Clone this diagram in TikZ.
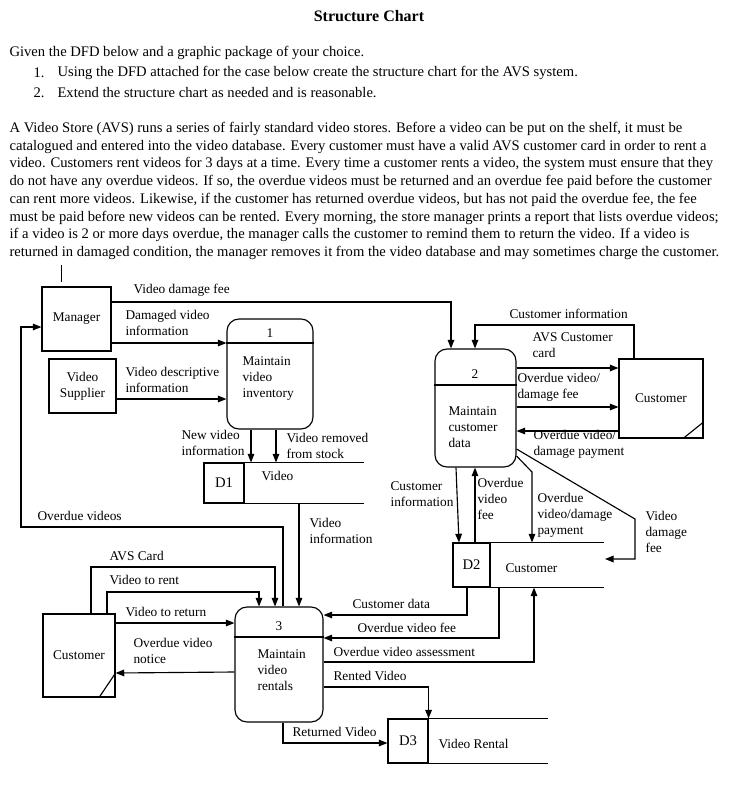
\documentclass[tikz,border=0pt]{standalone}
\usepackage{fontspec}
\setmainfont{Liberation Serif}
\usetikzlibrary{arrows.meta}

\begin{document}
\begin{tikzpicture}[x=0.75pt, y=-0.75pt, line width=0.85pt,
    every node/.style={inner sep=0pt, font=\fontsize{10}{12}\selectfont},
    body/.style={font=\fontsize{10.95}{13.3}\selectfont, align=left},
    lbl/.style={align=left, anchor=west},
    boxsize/.style 2 args={minimum width=#1*0.75pt, minimum height=#2*0.75pt},
    ent/.style={draw, rectangle, align=center},
    proc/.style={draw, rectangle, rounded corners=9pt},
    store/.style={draw, rectangle, font=\fontsize{11}{13}\selectfont},
    flow/.style={-{Triangle[length=6.5pt, width=5pt]}}]
    \useasboundingbox (0,0) rectangle (731,797);

    % heading and case text
    \node[font=\bfseries\fontsize{12}{14}\selectfont] (title) at (369,16) {Structure Chart};
    \node[body, anchor=west] (given) at (9,53) {Given the DFD below and a graphic package of your choice.};
    \node[body, anchor=west] (n1) at (33,73) {1.};
    \node[body, anchor=west] (i1) at (57,73) {Using the DFD attached for the case below create the structure chart for the AVS system.};
    \node[body, anchor=west] (n2) at (33,93) {2.};
    \node[body, anchor=west] (i2) at (57,93) {Extend the structure chart as needed and is reasonable.};
    \node[body, anchor=north west] (case) at (9,121.5) {A Video Store (AVS) runs a series of fairly standard video stores. Before a video can be put on the shelf, it must be\\
        catalogued and entered into the video database. Every customer must have a valid AVS customer card in order to rent a\\
        video. Customers rent videos for 3 days at a time. Every time a customer rents a video, the system must ensure that they\\
        do not have any overdue videos. If so, the overdue videos must be returned and an overdue fee paid before the customer\\
        can rent more videos. Likewise, if the customer has returned overdue videos, but has not paid the overdue fee, the fee\\
        must be paid before new videos can be rented. Every morning, the store manager prints a report that lists overdue videos;\\
        if a video is 2 or more days overdue, the manager calls the customer to remind them to return the video. If a video is\\
        returned in damaged condition, the manager removes it from the video database and may sometimes charge the customer.};
    \draw[line width=0.7pt] (61,265) -- (61,282);

    % external entities
    \node[ent, boxsize={69}{64}] (mgr) at (76.5,319) {Manager};
    \node[ent, boxsize={67}{54}] (sup) at (82.5,386) {Video\\Supplier};
    \node[ent, boxsize={84}{79}] (cusA) at (661,398.5) {Customer};
    \node[ent, boxsize={72}{83}] (cusB) at (79,655.5) {Customer};
    \draw (cusA.east |- 0,422) -- (cusA.south -| 683,0);
    \draw (cusB.east |- 0,673) -- (cusB.south -| 99,0);

    % processes
    \node[proc, boxsize={86}{110}] (p1) at (270,374) {};
    \draw (p1.west |- 0,343) -- (p1.east |- 0,343);
    \node (p1n) at (270,333) {1};
    \node[lbl] (p1t) at (242,379) {Maintain\\video\\inventory};

    \node[proc, boxsize={81}{118}] (p2) at (475.5,408) {};
    \draw (p2.west |- 0,385) -- (p2.east |- 0,385);
    \node (p2n) at (475,374) {2};
    \node[lbl] (p2t) at (448,427) {Maintain\\customer\\data};

    \node[proc, boxsize={88}{115}] (p3) at (279,664.5) {};
    \draw (p3.west |- 0,637) -- (p3.east |- 0,637);
    \node (p3n) at (279,626) {3};
    \node[lbl] (p3t) at (257,670) {Maintain\\video\\rentals};

    % data stores
    \node[store, boxsize={40}{40}] (d1) at (224,483) {D1};
    \draw (d1.north east) -- ++(119,0);
    \draw (d1.south east) -- ++(119,0);
    \node[lbl] (d1t) at (261,476) {Video};

    \node[store, boxsize={37}{44}] (d2) at (471.5,565) {D2};
    \draw (d2.north east) -- ++(113,0);
    \draw (d2.south east) -- ++(113,0);
    \node[lbl] (d2t) at (505,568) {Customer};
    \coordinate (d2open) at (605,559);

    \node[store, boxsize={40}{44}] (d3) at (408,741) {D3};
    \draw (d3.north east) -- ++(119,0);
    \draw (d3.south east) -- ++(119,0);
    \node[lbl] (d3t) at (438,744) {Video Rental};

    % flows round process 1
    \draw[flow] (mgr.east |- 0,302) -| (p2.north -| 451,0);
    \node[lbl] (ldmgfee) at (133,290) {Video damage fee};
    \draw[flow] (mgr.east |- 0,343) -- (p1.west |- 0,343);
    \node[lbl] (ldmginfo) at (125,323) {Damaged video\\information};
    \draw[flow] (sup.east |- 0,399) -- (p1.west |- 0,399);
    \node[lbl] (ldesc) at (125,379.5) {Video descriptive\\information};
    \draw[flow] (p1.south -| 251,0) -- (d1.north -| 251,0);
    \node[lbl] (lnew) at (181,442.5) {New video\\information};
    \draw[flow] (p1.south -| 276,0) -- (d1.north -| 276,0);
    \node[lbl] (lremoved) at (286,446) {Video removed\\from stock};

    % flows round process 3
    \draw[flow] (d1.south -| 299,0) -- (p3.north -| 299,0);
    \node[lbl] (lvinfo) at (309,531) {Video\\information};
    \draw[flow] (p3.north -| 283,0) |- (21,527) |- (mgr.west |- 0,327);
    \node[lbl] (loverdue) at (37,516) {Overdue videos};
    \draw[flow] (cusB.north -| 91,0) |- (275,567) -- (p3.north -| 275,0);
    \node[lbl] (lcard) at (109,556) {AVS Card};
    \draw[flow] (cusB.north -| 107,0) |- (259,592) -- (p3.north -| 259,0);
    \node[lbl] (lrent) at (109,580) {Video to rent};
    \draw[flow] (cusB.east |- 0,623) -- (p3.west |- 0,623);
    \node[lbl] (lreturn) at (125,612) {Video to return};
    \draw[flow] (p3.west |- 0,672) -- (cusB.east |- 0,673);
    \node[lbl] (lnotice) at (133,651) {Overdue video\\notice};
    \draw[flow] (p3.south -| 283,0) |- (d3.west |- 0,743);
    \node[lbl] (lreturned) at (292,732) {Returned Video};
    \draw[flow] (p3.east |- 0,687) -| (d3.north east);
    \node[lbl] (lrented) at (333,676) {Rented Video};
    \draw[flow] (p3.east |- 0,662) -| (d2.south -| 534,0);
    \node[lbl] (lassess) at (333,652) {Overdue video assessment};
    \draw[flow] (d2.south -| 499,0) |- (p3.east |- 0,638);
    \node[lbl] (lfeeB) at (357,628) {Overdue video fee};
    \draw[flow] (d2.south -| 467,0) |- (p3.east |- 0,615);
    \node[lbl] (lcdata) at (352,604) {Customer data};

    % flows round process 2
    \draw[flow] (p2.south -| 456,0) -- (d2.north -| 459,0);
    \node[lbl] (lcinfoB) at (390,494.5) {Customer\\information};
    \draw[flow] (d2.north -| 475,0) -- (p2.south -| 475,0);
    \node[lbl] (lfeeA) at (477,499) {Overdue\\video\\fee};
    \draw[flow] (p2.east |- 0,456) -- (532,472) -- (d2.north -| 532,0);
    \node[lbl] (lpayB) at (537,515) {Overdue\\video/damage\\payment};
    \draw[flow] (p2.east |- 0,449) -- (635,519) |- (d2open);
    \node[lbl] (ldmgB) at (645,531.5) {Video\\damage\\fee};
    \draw[flow] (cusA.north -| 634,0) |- (475,325) -- (p2.north -| 475,0);
    \node[lbl] (lcinfoA) at (509,314) {Customer information};
    \draw[flow] (p2.east |- 0,368) -- (cusA.west |- 0,368);
    \node[lbl] (lcard2) at (532,345.5) {AVS Customer\\card};
    \draw[flow] (p2.east |- 0,407) -- (cusA.west |- 0,407);
    \node[lbl] (lfeeC) at (517,387) {Overdue video/\\damage fee};
    \draw[flow] (cusA.west |- 0,431) -- (p2.east |- 0,431);
    \node[lbl] (lpayA) at (533,444) {Overdue video/\\damage payment};
\end{tikzpicture}
\end{document}
